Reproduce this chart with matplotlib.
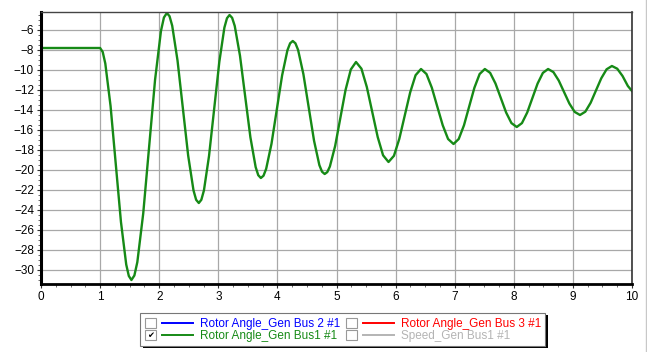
import numpy as np
import matplotlib.pyplot as plt
from matplotlib.lines import Line2D
from matplotlib.patches import Rectangle
from matplotlib.ticker import MultipleLocator

plt.rcParams['font.family'] = ['Liberation Sans', 'DejaVu Sans']

# rotor angle of Gen Bus1 (time s, angle deg)
t = [0.0, 1.0, 1.044,
     1.088, 1.177, 1.265, 1.353, 1.442, 1.486, 1.53, 1.58,
     1.63, 1.73, 1.83, 1.93, 2.03, 2.08, 2.13, 2.175,
     2.22, 2.31, 2.40, 2.49, 2.58, 2.625, 2.67, 2.713,
     2.757, 2.843, 2.93, 3.017, 3.103, 3.147, 3.19, 3.234,
     3.278, 3.367, 3.455, 3.543, 3.632, 3.676, 3.72, 3.765,
     3.81, 3.90, 3.99, 4.08, 4.17, 4.215, 4.26, 4.305,
     4.35, 4.44, 4.53, 4.62, 4.71, 4.755, 4.80, 4.844,
     4.888, 4.977, 5.065, 5.153, 5.242, 5.33,
     5.422, 5.513, 5.605, 5.697, 5.788, 5.88,
     5.972, 6.063, 6.155, 6.247, 6.338, 6.43,
     6.522, 6.613, 6.705, 6.797, 6.888, 6.98,
     7.068, 7.157, 7.245, 7.333, 7.422, 7.51,
     7.60, 7.69, 7.78, 7.87, 7.96, 8.05,
     8.138, 8.227, 8.315, 8.403, 8.492, 8.58,
     8.67, 8.76, 8.85, 8.94, 9.03, 9.12,
     9.21, 9.30, 9.39, 9.48, 9.57, 9.66,
     9.75, 9.84, 9.93, 10.0]
angle = [-7.8, -7.8, -8.19,
         -9.35, -13.6, -19.4, -25.2, -29.45, -30.6, -31.0, -30.55,
         -29.21, -24.33, -17.65, -10.98, -6.09, -4.75, -4.3, -4.62,
         -5.57, -9.05, -13.8, -18.55, -22.03, -22.98, -23.3, -22.98,
         -22.04, -18.6, -13.9, -9.2, -5.76, -4.82, -4.5, -4.78,
         -5.59, -8.57, -12.65, -16.72, -19.71, -20.52, -20.8, -20.57,
         -19.88, -17.38, -13.95, -10.53, -8.02, -7.33, -7.1, -7.33,
         -7.99, -10.42, -13.75, -17.07, -19.51, -20.17, -20.4, -20.21,
         -19.65, -17.6, -14.8, -12.0, -9.95, -9.2,
         -9.87, -11.7, -14.2, -16.7, -18.53, -19.2,
         -18.58, -16.88, -14.55, -12.23, -10.52, -9.9,
         -10.4, -11.77, -13.65, -15.52, -16.9, -17.4,
         -16.9, -15.53, -13.65, -11.78, -10.4, -9.9,
         -10.29, -11.35, -12.8, -14.25, -15.31, -15.7,
         -15.31, -14.25, -12.8, -11.35, -10.29, -9.9,
         -10.21, -11.05, -12.2, -13.35, -14.19, -14.5,
         -14.17, -13.28, -12.05, -10.83, -9.93, -9.6,
         -9.87, -10.6, -11.6, -12.1]

legend_labels = ['Rotor Angle_Gen Bus 2 #1', 'Rotor Angle_Gen Bus 3 #1',
                 'Rotor Angle_Gen Bus1 #1', 'Speed_Gen Bus1 #1']
legend_colors = ['#0000ff', '#ff0000', '#168a16', '#b4b4b4']
legend_checked = [False, False, True, False]

fig = plt.figure(figsize=(6.47, 3.52), dpi=100)
ax = fig.add_axes([41/647, 1 - 284/352, 591/647, 272/352])

ax.plot(t, angle, color='#168a16', lw=1.7, solid_joinstyle='round')

ax.set_xlim(0, 10)
ax.set_ylim(-31.4, -4.2)
ax.set_xticks(range(0, 11))
ax.set_yticks(np.arange(-30, -5, 2))
ax.xaxis.set_minor_locator(MultipleLocator(0.25))
ax.yaxis.set_minor_locator(MultipleLocator(0.5))
ax.tick_params(axis='both', which='major', labelsize=8.5, length=3, width=0.8,
               color='#333333', pad=2)
ax.tick_params(axis='both', which='minor', length=2, width=0.6, color='#555555')
ax.grid(True, which='major', color='#a8a8a8', lw=0.9)
ax.set_axisbelow(True)

ax.spines['left'].set_linewidth(2.2)
ax.spines['bottom'].set_linewidth(2.0)
ax.spines['left'].set_color('black')
ax.spines['bottom'].set_color('black')
ax.spines['top'].set_linewidth(1.0)
ax.spines['top'].set_color('#444444')
ax.spines['right'].set_linewidth(1.2)
ax.spines['right'].set_color('#333333')

# gray frame line at right edge
fig.add_artist(Line2D([645.5/647, 645.5/647], [0, 1], color='#c8c8c8', lw=1.0))

# legend panel with check boxes
W, H = 647, 352
def fx(px):
    return px / W
def fy(py):
    return 1 - py / H

fig.add_artist(Rectangle((fx(143), fy(348)), fx(405), 33/H, facecolor='black', edgecolor='none'))
fig.add_artist(Rectangle((fx(140), fy(345.5)), fx(405), 32.5/H, facecolor='white',
                         edgecolor='#777777', lw=0.8))

cols_x = [145, 346]
rows_y = [323, 335]
order = [(0, 0), (1, 0), (0, 1), (1, 1)]
for (ci, ri), label, color, checked in zip(order, legend_labels, legend_colors, legend_checked):
    x0 = cols_x[ci]
    y0 = rows_y[ri]
    fig.add_artist(Rectangle((fx(x0), fy(y0 + 5)), fx(11), 10/H, facecolor='white',
                             edgecolor='#999999', lw=0.8))
    if checked:
        fig.text(fx(x0 + 5.5), fy(y0 + 0.5), '\u2714', fontsize=6, color='black',
                 ha='center', va='center', family='DejaVu Sans')
    fig.add_artist(Line2D([fx(x0 + 17), fx(x0 + 48)], [fy(y0), fy(y0)], color=color, lw=1.4))
    fig.text(fx(x0 + 55), fy(y0 + 0.5), label, fontsize=8.5, color=color, ha='left', va='center')

fig.savefig('out.png', dpi=100)
